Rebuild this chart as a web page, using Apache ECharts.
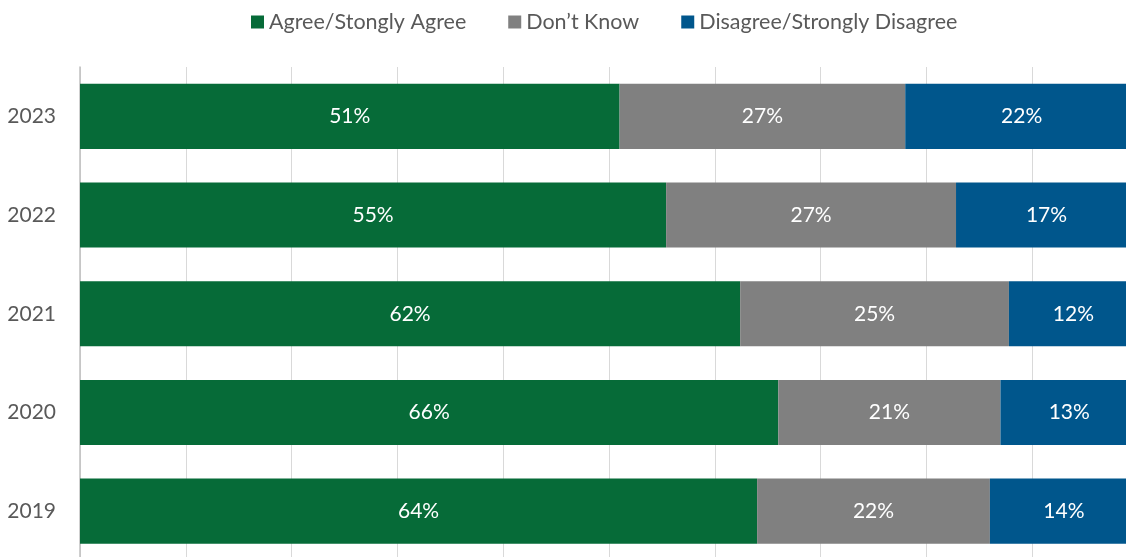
<!DOCTYPE html>
<html>
<head>
<meta charset="utf-8">
<script src="https://cdn.jsdelivr.net/npm/echarts@6/dist/echarts.min.js"></script>
<style>html,body{margin:0;padding:0;background:#fff}#c{width:1126px;height:557px}</style>
</head>
<body>
<div id="c"></div>
<script>
var years = ['2023', '2022', '2021', '2020', '2019'];
var agree = [51, 55.4, 62.4, 66, 64];
var dontKnow = [27, 27.4, 25.4, 21, 22];
var disagree = [22, 17.1, 12.2, 13, 14];
var seriesNames = ['Agree/Stongly Agree', 'Don\u2019t Know', 'Disagree/Strongly Disagree'];
var colors = ['#066B38', '#808080', '#00568C'];

var font = 'Lato, "Noto Sans", sans-serif';
function mk(name, data, color) {
  return {
    name: name, type: 'bar', stack: 'total', data: data,
    barCategoryGap: '34%',
    itemStyle: { color: color },
    label: {
      show: true, position: 'inside', color: '#fff', fontSize: 21, fontFamily: font,
      formatter: function (p) { return Math.round(p.value) + '%'; }
    }
  };
}
var chart = echarts.init(document.getElementById('c'), null, { renderer: 'canvas' });
chart.setOption({
  animation: false,
  color: colors,
  legend: {
    top: 6, left: 246, itemWidth: 13, itemHeight: 13, itemGap: 42,
    icon: 'rect',
    textStyle: { color: '#595959', fontSize: 21.5, fontFamily: font },
    data: seriesNames
  },
  grid: { left: 80, top: 67, width: 1058, height: 493.5, containLabel: false, outerBoundsMode: 'none' },
  xAxis: {
    type: 'value', min: 0, max: 100, interval: 10,
    axisLabel: { show: false }, axisLine: { show: false }, axisTick: { show: false },
    splitLine: { lineStyle: { color: '#d9d9d9', width: 1 } }
  },
  yAxis: {
    type: 'category', data: years, inverse: true,
    axisLine: { lineStyle: { color: '#bfbfbf', width: 1.5 } },
    axisTick: { show: false },
    axisLabel: { color: '#595959', fontSize: 21, fontFamily: font, margin: 24 }
  },
  series: [
    mk(seriesNames[0], agree, colors[0]),
    mk(seriesNames[1], dontKnow, colors[1]),
    mk(seriesNames[2], disagree, colors[2])
  ]
});
</script>
</body>
</html>
